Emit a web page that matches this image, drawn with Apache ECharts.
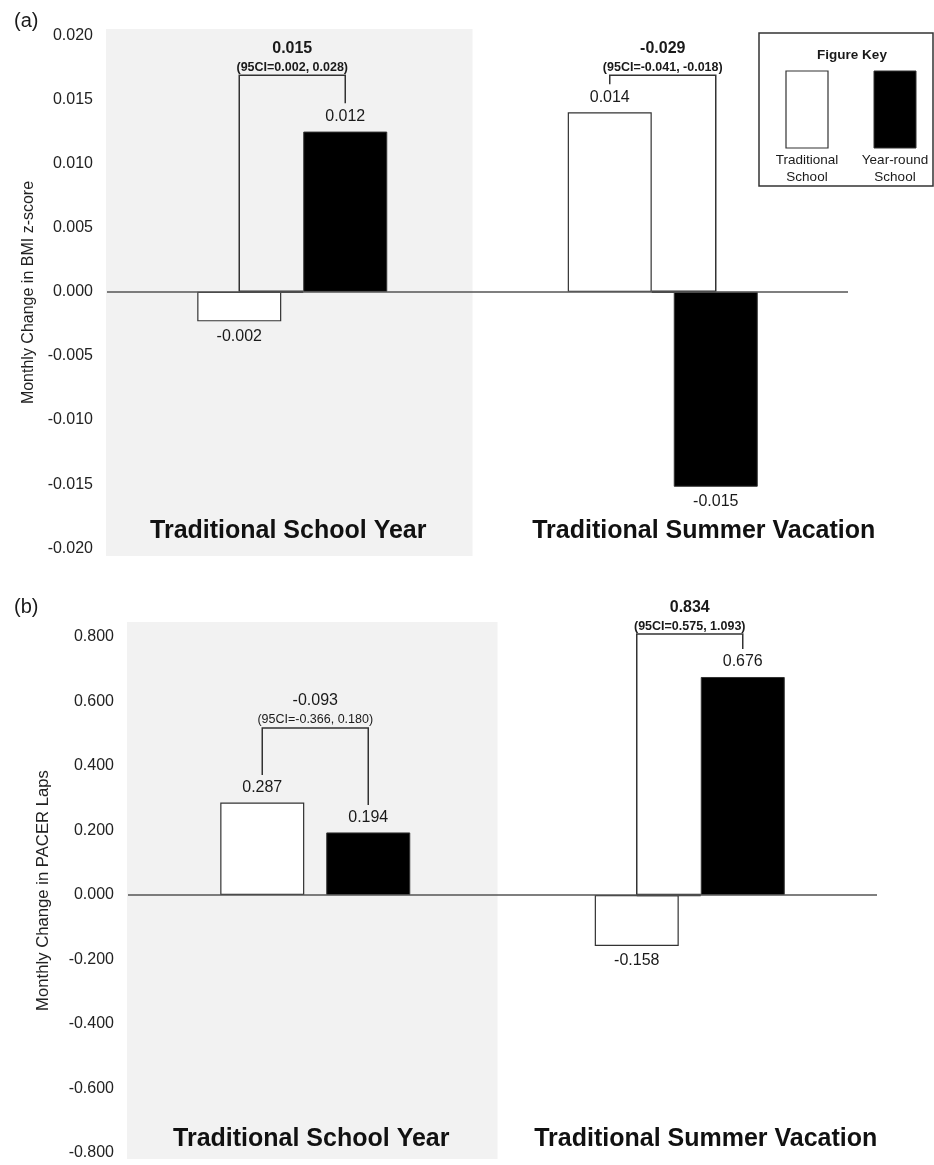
<!DOCTYPE html>
<html>
<head>
<meta charset="utf-8">
<script src="https://cdn.jsdelivr.net/npm/echarts@6/dist/echarts.min.js"></script>
<style>
  html, body { margin: 0; padding: 0; background: #fff; }
  #chart { width: 934px; height: 1165px; }
</style>
</head>
<body>
<div id="chart"></div>
<script>
const categories = ['Traditional School Year', 'Traditional Summer Vacation']
const shadedCategory = 'Traditional School Year'

// (a) monthly change in BMI z-score
const bmiTraditional = [-0.0023, 0.014]
const bmiYearRound = [0.0125, -0.0152]
const bmiTraditionalText = ['-0.002', '0.014']
const bmiYearRoundText = ['0.012', '-0.015']
const bmiTicks = [-0.02, -0.015, -0.01, -0.005, 0, 0.005, 0.01, 0.015, 0.02]
const bmiDiffText = ['0.015', '-0.029']
const bmiCIText = ['(95CI=0.002, 0.028)', '(95CI=-0.041, -0.018)']
const bmiDiffBold = [true, true]
// bracket: top, end of left leg, end of right leg
const bmiBrackets = [[0.0169, 0, 0.0147], [0.0169, 0.0162, 0]]

// (b) monthly change in PACER laps
const pacerTraditional = [0.287, -0.158]
const pacerYearRound = [0.194, 0.676]
const pacerTraditionalText = ['0.287', '-0.158']
const pacerYearRoundText = ['0.194', '0.676']
const pacerTicks = [-0.8, -0.6, -0.4, -0.2, 0, 0.2, 0.4, 0.6, 0.8]
const pacerDiffText = ['-0.093', '0.834']
const pacerCIText = ['(95CI=-0.366, 0.180)', '(95CI=0.575, 1.093)']
const pacerDiffBold = [false, true]
const pacerBrackets = [[0.518, 0.372, 0.279], [0.809, 0, 0.763]]

const FONT = '"Liberation Sans", Arial, sans-serif'
const INK = '#1a1a1a'
const BAR_W = 84
const BAR_GAP = 22
const HALF_PAIR = (BAR_W + BAR_GAP) / 2

const chart = echarts.init(document.getElementById('chart'), null, { renderer: 'canvas' })

function barData(values, texts) {
  return values.map((v, i) => ({
    value: v,
    label: { position: v < 0 ? 'bottom' : 'top', formatter: texts[i] },
  }))
}

function shadeItem(params, api) {
  const c = api.coord([api.value(0), 0])
  const w = api.size([1, 0])[0]
  return {
    type: 'rect',
    shape: { x: c[0] - w / 2 - 1, y: params.coordSys.y, width: w - 4, height: params.coordSys.height },
    style: { fill: '#f2f2f2' },
  }
}

function bracketItem(diffText, ciText, bold) {
  return function (params, api) {
    const i = api.value(0)
    const top = api.coord([i, api.value(1)])
    const yl = api.coord([i, api.value(2)])[1]
    const yr = api.coord([i, api.value(3)])[1]
    const lx = top[0] - HALF_PAIR
    const rx = top[0] + HALF_PAIR
    const k = params.dataIndex
    const children = [
      {
        type: 'polyline',
        shape: { points: [[lx, yl], [lx, top[1]], [rx, top[1]], [rx, yr]] },
        style: { stroke: '#333', lineWidth: 1.5, fill: null },
      },
      {
        type: 'text',
        style: {
          text: diffText[k], x: top[0], y: top[1] - 27, align: 'center', verticalAlign: 'middle',
          fontSize: 16, fontWeight: bold[k] ? 'bold' : 'normal', fontFamily: FONT, fill: INK,
        },
      },
      {
        type: 'text',
        style: {
          text: ciText[k], x: top[0], y: top[1] - 8, align: 'center', verticalAlign: 'middle',
          fontSize: 12.5, fontWeight: bold[k] ? 'bold' : 'normal', fontFamily: FONT, fill: INK,
        },
      },
    ]
    // thicker base where a leg drops to the zero line
    if (api.value(2) === 0) {
      children.push({ type: 'line', shape: { x1: lx, y1: yl, x2: rx - BAR_W / 2, y2: yl }, style: { stroke: '#333', lineWidth: 2.5 } })
    }
    if (api.value(3) === 0) {
      children.push({ type: 'line', shape: { x1: lx + BAR_W / 2, y1: yr, x2: rx, y2: yr }, style: { stroke: '#333', lineWidth: 2.5 } })
    }
    return { type: 'group', children }
  }
}

function panelSeries(idx, p) {
  const shadeIdx = categories.indexOf(shadedCategory)
  return [
    {
      type: 'custom',
      xAxisIndex: idx, yAxisIndex: idx,
      renderItem: shadeItem,
      data: [[shadeIdx, 0]],
      z: 0, silent: true,
    },
    {
      type: 'bar',
      xAxisIndex: idx, yAxisIndex: idx,
      barWidth: BAR_W,
      barGap: (BAR_GAP / BAR_W * 100) + '%',
      data: barData(p.traditional, p.traditionalText),
      itemStyle: { color: '#fff', borderColor: '#333', borderWidth: 1.2 },
      label: { show: true, distance: 7, fontSize: 16, color: INK, fontFamily: FONT },
      z: 2,
      markLine: {
        silent: true, symbol: 'none', animation: false,
        label: { show: false },
        lineStyle: { color: '#555', width: 1.5, type: 'solid' },
        data: [{ yAxis: 0 }],
      },
    },
    {
      type: 'bar',
      xAxisIndex: idx, yAxisIndex: idx,
      barWidth: BAR_W,
      data: barData(p.yearRound, p.yearRoundText),
      itemStyle: { color: '#000', borderColor: '#333', borderWidth: 1 },
      label: { show: true, distance: 7, fontSize: 16, color: INK, fontFamily: FONT },
      z: 2,
    },
    {
      type: 'custom',
      xAxisIndex: idx, yAxisIndex: idx,
      renderItem: bracketItem(p.diffText, p.ciText, p.bold),
      encode: { x: 0, y: 1 },
      data: p.brackets.map((b, i) => [i, b[0], b[1], b[2]]),
      z: 3, silent: true,
    },
  ]
}

// labelShift: horizontal nudge (px) of each category title
function xAxisFor(idx, margin, labelShift) {
  return {
    type: 'category', gridIndex: idx,
    data: categories.map((c, i) => ({
      value: c,
      textStyle: { padding: labelShift[i] >= 0 ? [0, 0, 0, 2 * labelShift[i]] : [0, -2 * labelShift[i], 0, 0] },
    })),
    axisLine: { show: false }, axisTick: { show: false },
    axisLabel: { inside: true, interval: 0, margin, fontSize: 25, fontWeight: 'bold', color: '#111', fontFamily: FONT },
  }
}

function yAxisFor(idx, min, max, ticks, name, nameGap, nameSize) {
  return {
    type: 'value', gridIndex: idx, min, max,
    name, nameLocation: 'middle', nameRotate: 90, nameGap,
    nameTextStyle: { fontSize: nameSize, color: '#222', fontFamily: FONT },
    axisLine: { show: false }, axisTick: { show: false }, splitLine: { show: false },
    axisLabel: {
      customValues: ticks, margin: 14, fontSize: 16, color: '#222', fontFamily: FONT,
      formatter: v => v.toFixed(3),
    },
  }
}

const option = {
  animation: false,
  backgroundColor: '#fff',
  title: [
    { text: '(a)', left: 9, top: 6, textStyle: { fontSize: 20, fontWeight: 'normal', color: INK, fontFamily: FONT } },
    { text: '(b)', left: 9, top: 592, textStyle: { fontSize: 20, fontWeight: 'normal', color: INK, fontFamily: FONT } },
  ],
  grid: [
    { left: 107, top: 29, width: 741, height: 527 },
    { left: 128, top: 622, width: 749, height: 537 },
  ],
  xAxis: [xAxisFor(0, 12, [-4, 41]), xAxisFor(1, 7, [-4, 16])],
  yAxis: [
    yAxisFor(0, -0.0206, 0.0205, bmiTicks, 'Monthly Change in BMI z-score', 66, 16),
    yAxisFor(1, -0.8186, 0.8465, pacerTicks, 'Monthly Change in PACER Laps', 76, 16.7),
  ],
  series: [
    ...panelSeries(0, {
      traditional: bmiTraditional, yearRound: bmiYearRound,
      traditionalText: bmiTraditionalText, yearRoundText: bmiYearRoundText,
      diffText: bmiDiffText, ciText: bmiCIText, bold: bmiDiffBold, brackets: bmiBrackets,
    }),
    ...panelSeries(1, {
      traditional: pacerTraditional, yearRound: pacerYearRound,
      traditionalText: pacerTraditionalText, yearRoundText: pacerYearRoundText,
      diffText: pacerDiffText, ciText: pacerCIText, bold: pacerDiffBold, brackets: pacerBrackets,
    }),
  ],
  graphic: [
    // figure key box
    { type: 'rect', shape: { x: 759, y: 33, width: 174, height: 153 }, style: { fill: '#fff', stroke: '#333', lineWidth: 1.5 } },
    { type: 'text', style: { text: 'Figure Key', x: 852, y: 55, align: 'center', verticalAlign: 'middle', fontSize: 13.5, fontWeight: 'bold', fontFamily: FONT, fill: INK } },
    { type: 'rect', shape: { x: 786, y: 71, width: 42, height: 77 }, style: { fill: '#fff', stroke: '#333', lineWidth: 1.2 } },
    { type: 'rect', shape: { x: 874, y: 71, width: 42, height: 77 }, style: { fill: '#000', stroke: '#333', lineWidth: 1 } },
    { type: 'text', style: { text: 'Traditional\nSchool', x: 807, y: 169, align: 'center', verticalAlign: 'middle', fontSize: 13.5, lineHeight: 17, fontFamily: FONT, fill: INK } },
    { type: 'text', style: { text: 'Year-round\nSchool', x: 895, y: 169, align: 'center', verticalAlign: 'middle', fontSize: 13.5, lineHeight: 17, fontFamily: FONT, fill: INK } },
  ],
}

chart.setOption(option)
</script>
</body>
</html>
